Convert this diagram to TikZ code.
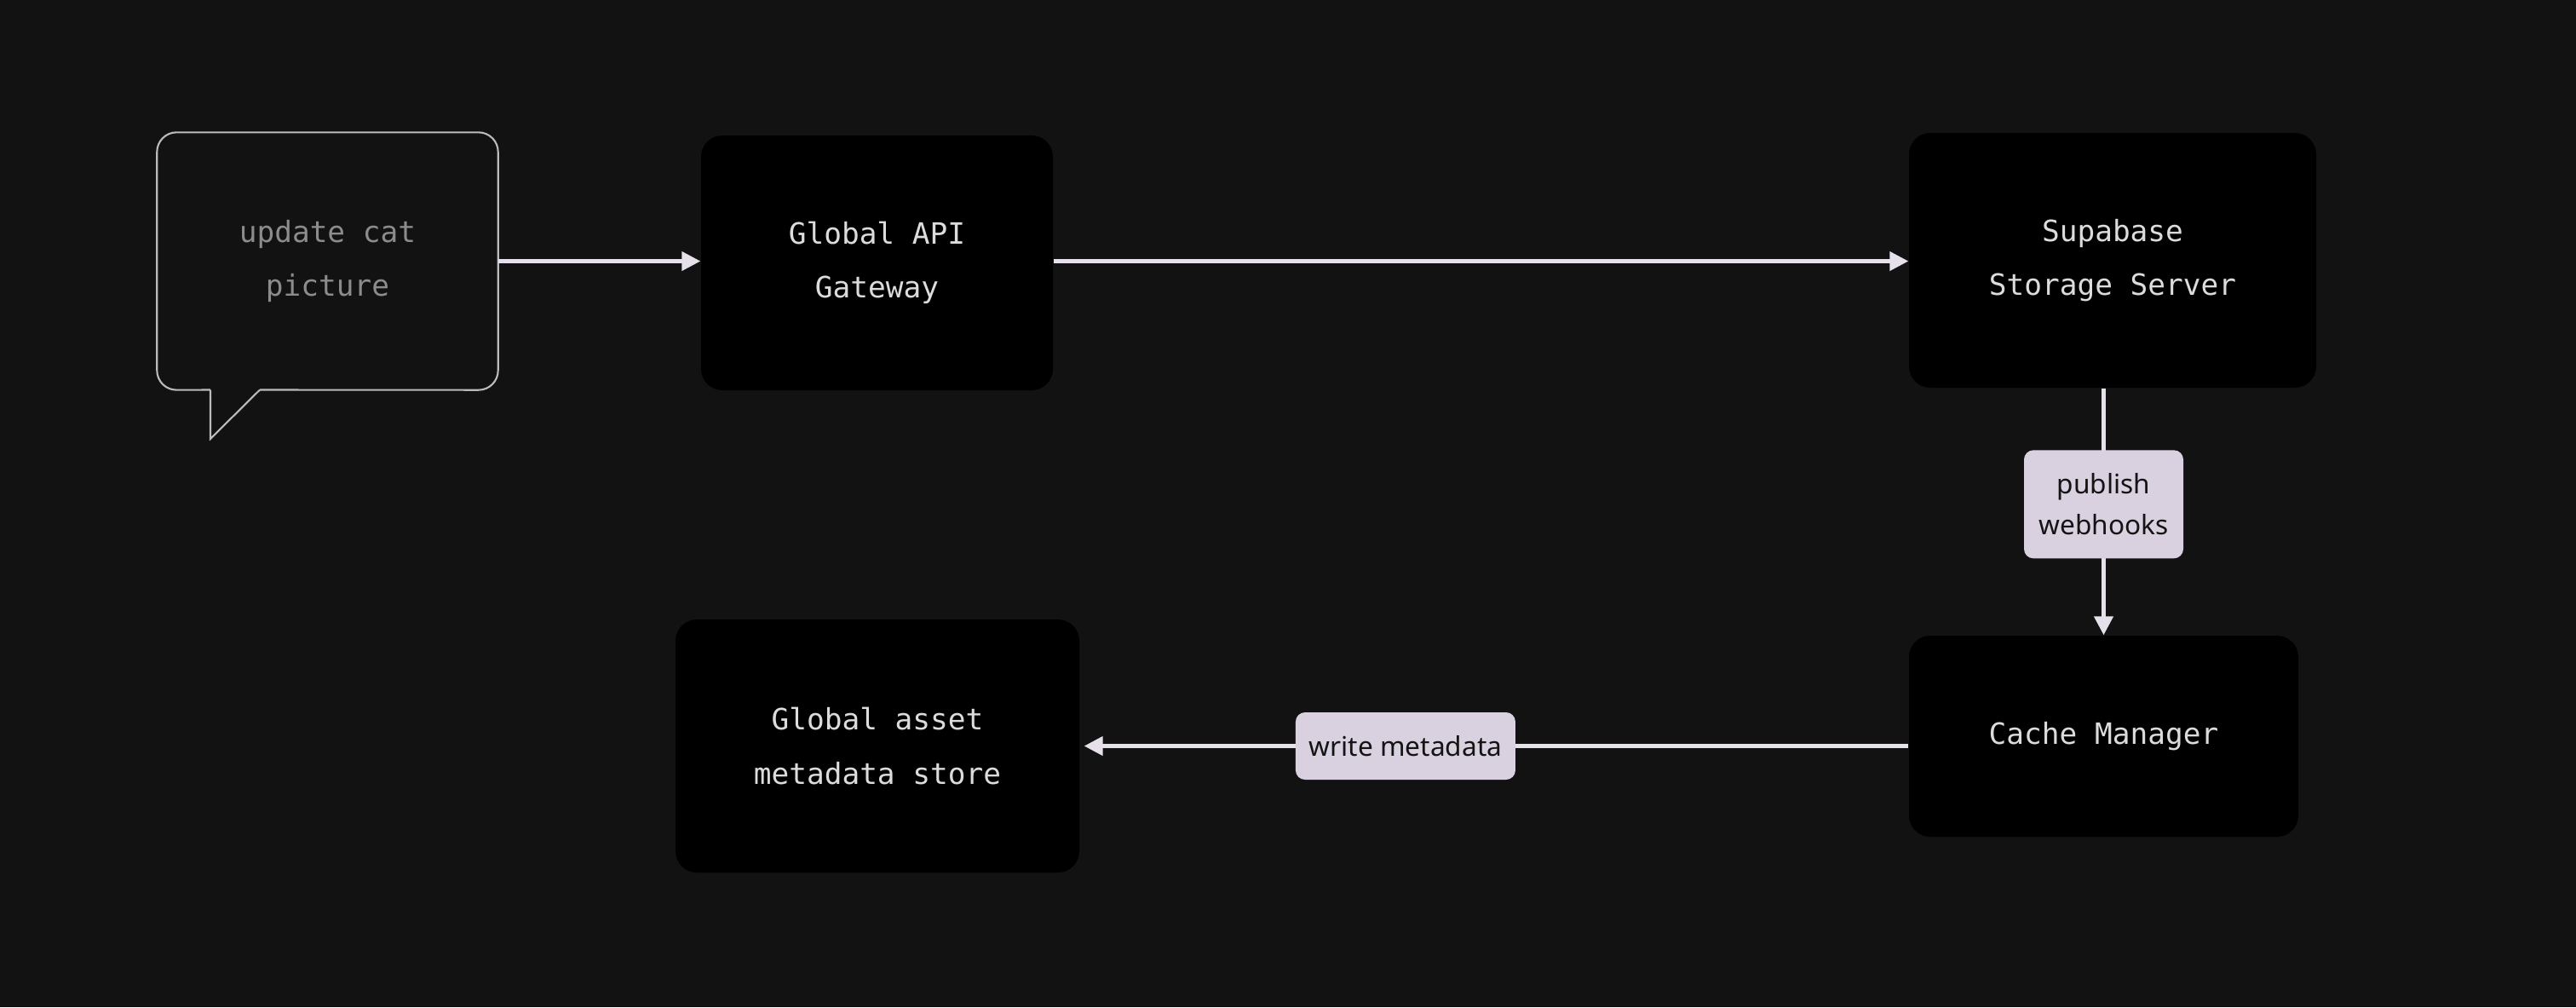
\documentclass[tikz,border=0pt]{standalone}
\usepackage{fontspec}
\setmainfont{Noto Sans}
\setmonofont{DejaVu Sans Mono}
\usepackage{tikz}
\usetikzlibrary{arrows.meta}
\definecolor{fond}{HTML}{121212}
\definecolor{lavande}{HTML}{D9D1DF}
\definecolor{trait}{HTML}{E6E0EA}
\definecolor{texte}{HTML}{DCDCDC}
\definecolor{contour}{HTML}{BBBBBB}
\definecolor{gris}{HTML}{8C8C8C}

\begin{document}
\begin{tikzpicture}[>={Triangle[length=0.22cm,width=0.22cm]},
    boite/.style={fill=black,rounded corners=0.25cm,inner sep=0pt,align=center,text=texte,font=\ttfamily\fontsize{9.8}{18}\selectfont},
    etiquette/.style={fill=lavande,rounded corners=0.11cm,inner sep=0pt,align=center,text=black!92,font=\fontsize{9}{13.7}\selectfont},
    fleche/.style={->,draw=trait,line width=1.25pt}]

    % Fond
    \fill[fond] (0,0) rectangle (30.24,-11.82);
    \useasboundingbox (0,0) rectangle (30.24,-11.82);

    % Définir la bulle
    \node[minimum width=3.99cm,minimum height=3.01cm,inner sep=0pt,align=center,text=gris,font=\ttfamily\fontsize{9.8}{18}\selectfont] (bulle) at (3.845,-3.065) {update cat\\ picture};
    \coordinate (q1) at (2.47,-4.575);
    \coordinate (q2) at (3.05,-4.575);
    \coordinate (pointe) at (2.47,-5.15);

    % Dessinez la bulle
    \draw[contour,line width=0.6pt,rounded corners=0.23cm] (q1) -- (bulle.south west) -- (bulle.north west) -- (bulle.north east) -- (bulle.south east) -- (q2);
    \draw[contour,line width=0.6pt] (q2) -- (pointe) -- (q1);

    % Définir les boîtes
    \node[boite,minimum width=4.13cm,minimum height=2.99cm] (api) at (10.295,-3.085) {Global API\\ Gateway};
    \node[boite,minimum width=4.78cm,minimum height=2.99cm] (sup) at (24.80,-3.055) {Supabase\\ Storage Server};
    \node[boite,minimum width=4.57cm,minimum height=2.36cm] (cache) at (24.695,-8.64) {Cache Manager};
    \node[boite,minimum width=4.74cm,minimum height=2.97cm] (meta) at (10.30,-8.755) {Global asset\\ metadata store};

    % Dessinez les flèches
    \draw[fleche] (bulle.east) -- (bulle.east -| api.west);
    \draw[fleche] (bulle.east -| api.east) -- (bulle.east -| sup.west);
    \draw[fleche] (cache.north |- sup.south) -- node[etiquette,pos=0.47,minimum width=1.87cm,minimum height=1.27cm] (pub) {publish\\ webhooks} (cache.north);
    \draw[fleche,shorten >=0.05cm] (meta.east -| cache.west) -- node[etiquette,pos=0.607,minimum width=2.58cm,minimum height=0.79cm] (ecr) {write metadata} (meta.east);
\end{tikzpicture}
\end{document}
